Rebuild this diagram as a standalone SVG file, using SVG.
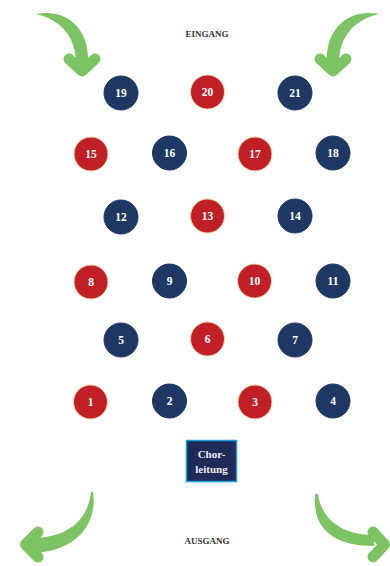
<svg xmlns="http://www.w3.org/2000/svg" width="390" height="566" viewBox="0 0 390 566">
<style>
.seat circle{stroke-width:1}
.navy{fill:#1f3863;stroke:#1f3863}
.red{fill:#c01f26;stroke:#f3d6a6}
.num{font-family:"Liberation Serif",serif;font-weight:bold;font-size:11.5px;fill:#ffffff;text-anchor:middle}
.lbl{font-family:"Liberation Serif",serif;font-weight:bold;font-size:9px;fill:#333333;text-anchor:middle}
.shaft{fill:#7cc463}
.head{fill:none;stroke:#7cc463;stroke-width:11;stroke-linecap:round;stroke-linejoin:round}
</style>
<rect width="390" height="566" fill="#ffffff"/>
<g id="arrows">
  <g id="arrow-in-left">
    <path class="shaft" d="M36,14 C66,8 90,28 88,63 L76,63 C76,38 62,20 36,14 Z"/>
    <path class="head" d="M69,59 L82,71 L95,59"/>
  </g>
  <g id="arrow-in-right" transform="translate(415,0) scale(-1,1)">
    <path class="shaft" d="M36,14 C66,8 90,28 88,63 L76,63 C76,38 62,20 36,14 Z"/>
    <path class="head" d="M69,59 L82,71 L95,59"/>
  </g>
  <g id="arrow-out-left">
    <path class="shaft" d="M93,492 C98,525 75,552 32,553 L32,538 C65,538 88,522 91,492 Z"/>
    <path class="head" d="M38,532 L25.5,544.5 L38,557"/>
  </g>
  <g id="arrow-out-right">
    <path class="shaft" d="M315,494 C312,530 335,546 374,546 L374,535 C345,535 322,522 318,494 Z"/>
    <path class="head" d="M373,532 L384.5,544.5 L373,557"/>
  </g>
</g>
<text class="lbl" x="207" y="37">EINGANG</text>
<text class="lbl" x="207" y="544">AUSGANG</text>
<g id="s19" class="seat"><circle class="navy" cx="121" cy="93" r="17"/><text class="num" x="121" y="97">19</text></g>
<g id="s20" class="seat"><circle class="red" cx="207.5" cy="92" r="17"/><text class="num" x="207.5" y="96">20</text></g>
<g id="s21" class="seat"><circle class="navy" cx="295" cy="93" r="17"/><text class="num" x="295" y="97">21</text></g>
<g id="s15" class="seat"><circle class="red" cx="91" cy="154" r="17"/><text class="num" x="91" y="158">15</text></g>
<g id="s16" class="seat"><circle class="navy" cx="169.5" cy="153" r="17"/><text class="num" x="169.5" y="157">16</text></g>
<g id="s17" class="seat"><circle class="red" cx="255" cy="154" r="17"/><text class="num" x="255" y="158">17</text></g>
<g id="s18" class="seat"><circle class="navy" cx="333" cy="153" r="17"/><text class="num" x="333" y="157">18</text></g>
<g id="s12" class="seat"><circle class="navy" cx="121" cy="217" r="17"/><text class="num" x="121" y="221">12</text></g>
<g id="s13" class="seat"><circle class="red" cx="207.5" cy="216" r="17"/><text class="num" x="207.5" y="220">13</text></g>
<g id="s14" class="seat"><circle class="navy" cx="295" cy="216" r="17"/><text class="num" x="295" y="220">14</text></g>
<g id="s8" class="seat"><circle class="red" cx="91" cy="282" r="17"/><text class="num" x="91" y="286">8</text></g>
<g id="s9" class="seat"><circle class="navy" cx="169.5" cy="281" r="17"/><text class="num" x="169.5" y="285">9</text></g>
<g id="s10" class="seat"><circle class="red" cx="254.5" cy="281" r="17"/><text class="num" x="254.5" y="285">10</text></g>
<g id="s11" class="seat"><circle class="navy" cx="333" cy="281" r="17"/><text class="num" x="333" y="285">11</text></g>
<g id="s5" class="seat"><circle class="navy" cx="121" cy="340" r="17"/><text class="num" x="121" y="344">5</text></g>
<g id="s6" class="seat"><circle class="red" cx="207.5" cy="339" r="17"/><text class="num" x="207.5" y="343">6</text></g>
<g id="s7" class="seat"><circle class="navy" cx="295" cy="340" r="17"/><text class="num" x="295" y="344">7</text></g>
<g id="s1" class="seat"><circle class="red" cx="90.5" cy="402" r="17"/><text class="num" x="90.5" y="406">1</text></g>
<g id="s2" class="seat"><circle class="navy" cx="169.5" cy="401" r="17"/><text class="num" x="169.5" y="405">2</text></g>
<g id="s3" class="seat"><circle class="red" cx="255" cy="402" r="17"/><text class="num" x="255" y="406">3</text></g>
<g id="s4" class="seat"><circle class="navy" cx="333" cy="401" r="17"/><text class="num" x="333" y="405">4</text></g>
<g id="chorleitung">
  <rect x="186.5" y="440.5" width="50" height="41" fill="#1f2a58" stroke="#1b9ad8" stroke-width="1.5"/>
  <text class="num" x="211.5" y="458" style="font-size:11px;fill:#ececf2">Chor-</text>
  <text class="num" x="211.5" y="473" style="font-size:11px;fill:#ececf2">leitung</text>
</g>
</svg>
